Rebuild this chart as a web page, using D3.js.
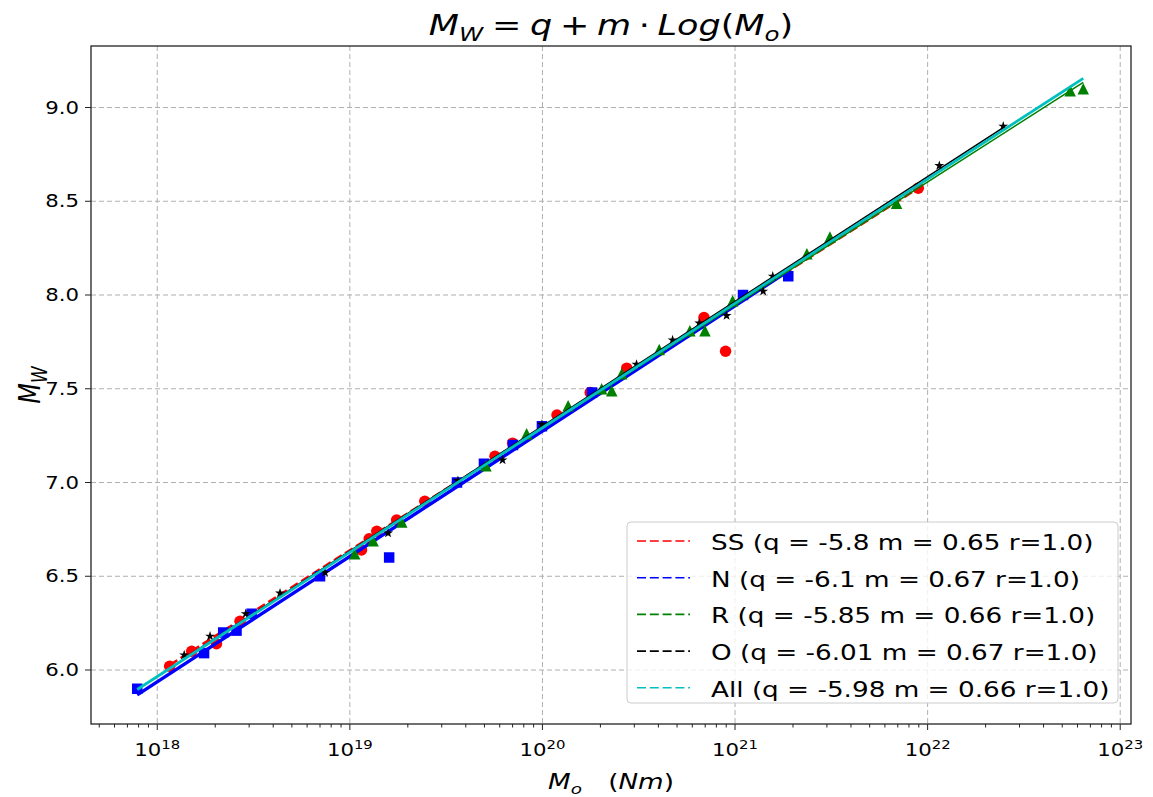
<!DOCTYPE html>
<html>
<head>
<meta charset="utf-8">
<script src="https://cdn.jsdelivr.net/npm/d3@7"></script>
<style>
  html, body { margin: 0; padding: 0; background: #ffffff; }
  svg { display: block; }
  text { font-family: "DejaVu Sans", sans-serif; fill: #000; }
</style>
</head>
<body>
<svg id="chart" width="1153" height="797"></svg>
<script>
// ---------------- data: seismic moment (N·m) and moment magnitude per fault type ----------------
const ssMo = [1.16e18, 1.51e18, 2.03e18, 2.69e18, 1.15e19, 1.26e19, 1.38e19, 1.75e19, 2.45e19,
              5.67e19, 7.0e19, 1.19e20, 1.77e20, 2.74e20, 6.9e20, 8.93e20, 8.94e21];
const ssMw = [6.02, 6.1, 6.14, 6.26, 6.64, 6.7, 6.74, 6.8, 6.9,
              7.14, 7.21, 7.36, 7.48, 7.61, 7.88, 7.7, 8.57];

const nMo = [7.87e17, 1.75e18, 2.2e18, 2.58e18, 3.09e18, 7.0e18, 1.6e19, 3.6e19, 4.97e19,
             7.03e19, 9.94e19, 1.81e20, 1.1e21, 1.89e21];
const nMw = [5.9, 6.09, 6.2, 6.21, 6.3, 6.5, 6.6, 7.0, 7.1,
             7.2, 7.3, 7.48, 8.0, 8.1];

const rMo = [1.06e19, 1.32e19, 1.86e19, 5.09e19, 8.28e19, 1.36e20, 2.03e20, 2.29e20, 2.58e20,
             4.04e20, 5.83e20, 6.98e20, 9.72e20, 2.36e21, 3.11e21, 6.9e21, 5.5e22, 6.43e22];
const rMw = [6.62, 6.69, 6.79, 7.09, 7.26, 7.41, 7.5, 7.49, 7.58,
             7.71, 7.81, 7.81, 7.97, 8.22, 8.31, 8.49, 9.09, 9.1];

const oMo = [1.38e18, 1.88e18, 2.88e18, 4.34e18, 7.43e18, 1.58e19, 3.64e19, 6.21e19, 9.94e19,
             3.08e20, 4.74e20, 6.52e20, 9.04e20, 1.4e21, 1.57e21, 1.15e22, 2.47e22];
const oMw = [6.08, 6.18, 6.3, 6.41, 6.52, 6.73, 7.01, 7.12, 7.31,
             7.63, 7.76, 7.85, 7.89, 8.02, 8.1, 8.69, 8.9];

// linear fits Mw = q + m*log10(Mo): SS, N, R, O, All
const fitNames = ["SS", "N", "R", "O", "All"];
const fitQ = [-5.797, -6.096, -5.851, -6.01, -5.978];
const fitM = [0.6545, 0.6685, 0.657, 0.6655, 0.6635];
const fitR = [1.0, 1.0, 1.0, 1.0, 1.0];

// axis limits and ticks
const xLimits = [Math.pow(10, 17.656), Math.pow(10, 23.056)];
const yLimits = [5.712, 9.328];
const xTickExp = [18, 19, 20, 21, 22, 23];
const yTicks = [6.0, 6.5, 7.0, 7.5, 8.0, 8.5, 9.0];

// ---------------- styling ----------------
const groupColors = ["#ff0000", "#0000ff", "#008000", "#000000"];
const groupMarkers = ["circle", "square", "triangle", "star"];
const fitColors = ["#ff0000", "#0000ff", "#008000", "#000000", "#00bfbf"];
const fitWidths = [2.6, 3.4, 1.6, 1.6, 2.8];
const fitDash = ["9,4", null, null, null, null];
const SX = 1.25;               // horizontal text stretch
const gridColor = "#b0b0b0";

const box = { left: 91, right: 1131, top: 46, bottom: 724 };

const svg = d3.select("#chart");

const x = d3.scaleLog().domain(xLimits).range([box.left, box.right]);
const y = d3.scaleLinear().domain(yLimits).range([box.bottom, box.top]);

// groups table built from the arrays
const groups = [
  { mo: ssMo, mw: ssMw },
  { mo: nMo, mw: nMw },
  { mo: rMo, mw: rMw },
  { mo: oMo, mw: oMw }
].map((g, i) => ({ ...g, color: groupColors[i], marker: groupMarkers[i], fit: i }));

const allMo = [].concat(ssMo, nMo, rMo, oMo);

// ---------------- helpers ----------------
function fmt2(v) {
  const r = Math.round(v * 100) / 100;
  return Number.isInteger(r) ? r.toFixed(1) : String(r);
}

// mathtext-like label made of tspans; parts: {t, it, sub, sup, dx}
function mathText(textSel, parts, fs) {
  let shift = 0;
  parts.forEach(p => {
    const small = p.sub || p.sup;
    const target = p.sub ? fs * 0.22 : (p.sup ? -fs * 0.42 : 0);
    const ts = textSel.append("tspan")
      .text(p.t)
      .attr("font-size", small ? fs * 0.7 : fs)
      .attr("font-style", p.it ? "italic" : "normal")
      .attr("dy", target - shift);
    if (p.dx) ts.attr("dx", p.dx * fs);
    shift = target;
  });
}

function stretchedText(parent, px, py, extra) {
  return parent.append("g")
    .attr("transform", `translate(${px},${py}) scale(${SX},1)` + (extra || ""))
    .append("text");
}

function markerPath(kind, s) {
  const h = s / 2;
  if (kind === "circle") return d3.symbol(d3.symbolCircle, Math.PI * h * h)();
  if (kind === "square") return `M${-h},${-h}H${h}V${h}H${-h}Z`;
  if (kind === "triangle") return `M0,${-h}L${h},${h}L${-h},${h}Z`;
  // five-pointed star
  const pts = [];
  for (let k = 0; k < 10; k++) {
    const r = k % 2 === 0 ? h : h * 0.382;
    const a = -Math.PI / 2 + k * Math.PI / 5;
    pts.push([r * Math.cos(a), r * Math.sin(a)]);
  }
  return "M" + pts.map(p => p.join(",")).join("L") + "Z";
}

// ---------------- grid ----------------
const defs = svg.append("defs");
defs.append("clipPath").attr("id", "plotclip")
  .append("rect")
  .attr("x", box.left).attr("y", box.top)
  .attr("width", box.right - box.left).attr("height", box.bottom - box.top);

const grid = svg.append("g");
xTickExp.forEach(e => {
  const gx = x(Math.pow(10, e));
  grid.append("line")
    .attr("x1", gx).attr("x2", gx).attr("y1", box.top).attr("y2", box.bottom)
    .attr("stroke", gridColor).attr("stroke-width", 1).attr("stroke-dasharray", "5,3");
});
yTicks.forEach(v => {
  const gy = y(v);
  grid.append("line")
    .attr("x1", box.left).attr("x2", box.right).attr("y1", gy).attr("y2", gy)
    .attr("stroke", gridColor).attr("stroke-width", 1).attr("stroke-dasharray", "5,3");
});

// ---------------- marks ----------------
const plot = svg.append("g").attr("clip-path", "url(#plotclip)");
const line = d3.line().x(d => x(d[0])).y(d => y(d[1]));

function drawFit(i, moArr) {
  const ext = d3.extent(moArr);
  const pts = ext.map(v => [v, fitQ[i] + fitM[i] * Math.log10(v)]);
  const p = plot.append("path")
    .attr("d", line(pts))
    .attr("fill", "none")
    .attr("stroke", fitColors[i])
    .attr("stroke-width", fitWidths[i]);
  if (fitDash[i]) p.attr("stroke-dasharray", fitDash[i]);
}

const markerSize = { circle: 11.5, square: 10.5, triangle: 11.5, star: 10.5 };
groups.forEach(g => {
  plot.append("g").selectAll("path")
    .data(g.mo.map((v, k) => [v, g.mw[k]]))
    .join("path")
    .attr("transform", d => `translate(${x(d[0])},${y(d[1])})`)
    .attr("d", markerPath(g.marker, markerSize[g.marker]))
    .attr("fill", g.color);
  drawFit(g.fit, g.mo);
});
drawFit(4, allMo);

// ---------------- frame and ticks ----------------
svg.append("rect")
  .attr("x", box.left).attr("y", box.top)
  .attr("width", box.right - box.left).attr("height", box.bottom - box.top)
  .attr("fill", "none").attr("stroke", "#222").attr("stroke-width", 1.3);

const ticks = svg.append("g").attr("stroke", "#222");
// x major and minor ticks
for (let e = 17; e <= 23; e++) {
  for (let j = 1; j <= 9; j++) {
    const v = j * Math.pow(10, e);
    if (v < xLimits[0] || v > xLimits[1]) continue;
    const len = j === 1 ? 6 : 3.5;
    ticks.append("line")
      .attr("x1", x(v)).attr("x2", x(v))
      .attr("y1", box.bottom).attr("y2", box.bottom + len)
      .attr("stroke-width", 1);
  }
}
xTickExp.forEach(e => {
  const t = stretchedText(svg, x(Math.pow(10, e)), 756).attr("text-anchor", "middle");
  mathText(t, [{ t: "10" }, { t: String(e), sup: true }], 17);
});

yTicks.forEach(v => {
  ticks.append("line")
    .attr("x1", box.left - 6).attr("x2", box.left)
    .attr("y1", y(v)).attr("y2", y(v))
    .attr("stroke-width", 1);
  stretchedText(svg, 79, y(v) + 6).attr("text-anchor", "end")
    .attr("font-size", 17).text(v.toFixed(1));
});

// ---------------- axis labels and title ----------------
const xl = stretchedText(svg, (box.left + box.right) / 2, 789).attr("text-anchor", "middle");
mathText(xl, [{ t: "M", it: true }, { t: "o", it: true, sub: true },
              { t: "(", dx: 1.0 }, { t: "Nm", it: true }, { t: ")" }], 21);

const yl = stretchedText(svg, 40, (box.top + box.bottom) / 2, " rotate(-90)").attr("text-anchor", "middle");
mathText(yl, [{ t: "M", it: true }, { t: "W", it: true, sub: true }], 24);

const title = stretchedText(svg, (box.left + box.right) / 2, 35).attr("text-anchor", "middle");
mathText(title, [
  { t: "M", it: true }, { t: "W", it: true, sub: true },
  { t: "=", dx: 0.25 }, { t: "q", it: true, dx: 0.25 },
  { t: "+", dx: 0.22 }, { t: "m", it: true, dx: 0.22 },
  { t: "·", dx: 0.22 }, { t: "Log", it: true, dx: 0.22 },
  { t: "(" }, { t: "M", it: true }, { t: "o", it: true, sub: true }, { t: ")" }
], 28);

// ---------------- legend ----------------
const lg = svg.append("g");
lg.append("rect")
  .attr("x", 627).attr("y", 522).attr("width", 491).attr("height", 181)
  .attr("rx", 4).attr("ry", 4)
  .attr("fill", "#ffffff").attr("fill-opacity", 0.8)
  .attr("stroke", "#cccccc").attr("stroke-width", 1);

fitNames.forEach((name, i) => {
  const base = 550 + i * 36.7;
  lg.append("line")
    .attr("x1", 637).attr("x2", 690)
    .attr("y1", base - 9).attr("y2", base - 9)
    .attr("stroke", fitColors[i]).attr("stroke-width", 1.6)
    .attr("stroke-dasharray", "9,3.8");
  stretchedText(lg, 711, base).attr("font-size", 21)
    .text(`${name} (q = ${fmt2(fitQ[i])} m = ${fmt2(fitM[i])} r=${fmt2(fitR[i])})`);
});
</script>
</body>
</html>
